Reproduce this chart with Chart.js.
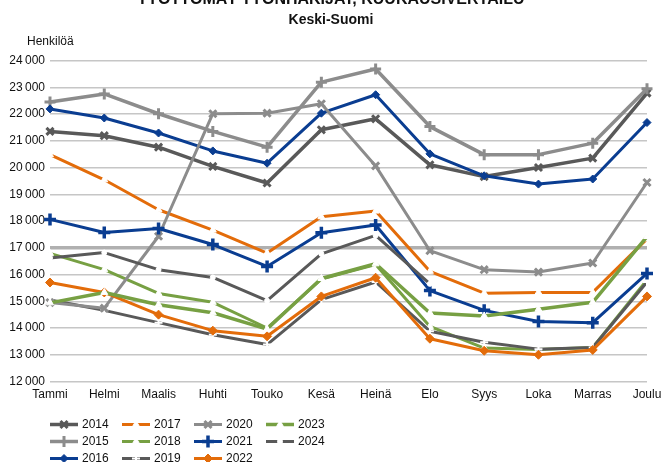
<!DOCTYPE html>
<html>
<head>
<meta charset="utf-8">
<script src="https://cdn.jsdelivr.net/npm/chart.js@4/dist/chart.umd.min.js"></script>
<style>
  html, body { margin: 0; padding: 0; background: #fff; }
  canvas { display: block; }
</style>
</head>
<body>
<canvas id="c" width="662" height="462"></canvas>
<script>
// kuukaudet ja vuodet
const months = ['Tammi', 'Helmi', 'Maalis', 'Huhti', 'Touko', 'Kesä', 'Heinä', 'Elo', 'Syys', 'Loka', 'Marras', 'Joulu'];
const years = ['2014', '2015', '2016', '2017', '2018', '2019', '2020', '2021', '2022', '2023', '2024'];

// työttömät työnhakijat, henkilöä (luettu kuvasta)
const v2014 = [21350, 21190, 20760, 20040, 19420, 21410, 21820, 20100, 19660, 20000, 20350, 22780];
const v2015 = [22450, 22750, 22010, 21350, 20760, 23190, 23680, 21530, 20480, 20480, 20910, 22940];
const v2016 = [22190, 21850, 21290, 20620, 20160, 22030, 22720, 20510, 19690, 19380, 19570, 21680];
const v2017 = [20480, 19540, 18420, 17660, 16800, 18160, 18370, 16120, 15300, 15330, 15330, 17330];
const v2018 = [16790, 16180, 15290, 14960, 14000, 15830, 16370, 14060, 13250, 13200, 13270, 15800];
const v2019 = [15050, 14660, 14200, 13750, 13380, 15060, 15720, 13880, 13470, 13210, 13270, 15720];
const v2020 = [14950, 14740, 17430, 22010, 22030, 22380, 20060, 16890, 16180, 16090, 16430, 19440];
const v2021 = [18060, 17570, 17720, 17120, 16300, 17560, 17850, 15400, 14660, 14240, 14200, 16040];
const v2022 = [15700, 15330, 14500, 13900, 13690, 15180, 15880, 13600, 13150, 13000, 13180, 15180];
const v2023 = [14940, 15330, 14870, 14570, 13960, 15850, 16400, 14560, 14450, 14700, 14960, 17420];
const v2024 = [16620, 16820, 16180, 15890, 15020, 16770, 17460, 15650, null, null, null, null];
const series = [v2014, v2015, v2016, v2017, v2018, v2019, v2020, v2021, v2022, v2023, v2024];

// y-akselin rajat
const yMin = 12000, yMax = 24000, yStep = 1000;

// sarjojen tyylit
const DGRAY = '#595959', LGRAY = '#8c8c8c', BLUE = '#0a3d91', ORANGE = '#e36c0a', GREEN = '#77a043';
const looks = [
  { c: DGRAY,  w: 3.5, ps: 'crossRot', r: 5,   pb: 3,  fill: DGRAY },
  { c: LGRAY,  w: 3.5, ps: 'cross',    r: 5.5, pb: 3,  fill: LGRAY },
  { c: BLUE,   w: 3,   ps: 'rectRot',  r: 4,   pb: 1,  fill: BLUE },
  { c: ORANGE, w: 3,   ps: 'triangle', r: 4,   pb: 1,  fill: '#fff', pbc: '#fff' },
  { c: GREEN,  w: 3,   ps: 'triangle', r: 4,   pb: 1,  fill: '#fff', pbc: '#fff' },
  { c: DGRAY,  w: 3,   ps: 'cross',    r: 4,   pb: 2,  fill: '#fff', pbc: '#fff' },
  { c: LGRAY,  w: 3,   ps: 'crossRot', r: 5,   pb: 3,  fill: LGRAY },
  { c: BLUE,   w: 3,   ps: 'cross',    r: 6,   pb: 3.5, fill: BLUE },
  { c: ORANGE, w: 3,   ps: 'rectRot',  r: 4.5, pb: 1,  fill: ORANGE },
  { c: GREEN,  w: 3.5, ps: 'triangle', r: 4,   pb: 1,  fill: '#fff', pbc: '#fff' },
  { c: DGRAY,  w: 3,   ps: 'circle',   r: 2.5, pb: 1,  fill: '#fff', pbc: '#fff' }
];

const fmtThousands = v => String(v).replace(/\B(?=(\d{3})+(?!\d))/g, '\u2009');

const datasets = series.map((data, i) => {
  const lk = looks[i];
  return {
    label: years[i],
    data,
    borderColor: lk.c,
    borderWidth: lk.w,
    borderJoinStyle: 'round',
    borderCapStyle: 'round',
    pointStyle: lk.ps,
    pointRadius: lk.r,
    pointHoverRadius: lk.r,
    pointBorderWidth: lk.pb,
    pointBorderColor: lk.pbc || lk.c,
    pointBackgroundColor: lk.fill,
    tension: 0,
    fill: false,
    order: series.length - i
  };
});

// otsikot ja yksikkö
const textPlugin = {
  id: 'texts',
  afterDraw(chart) {
    const ctx = chart.ctx;
    ctx.save();
    ctx.fillStyle = '#111';
    ctx.textAlign = 'center';
    ctx.textBaseline = 'alphabetic';
    ctx.font = 'bold 16px "Liberation Sans", Arial, sans-serif';
    ctx.fillText('TYÖTTÖMÄT TYÖNHAKIJAT, KUUKAUSIVERTAILU', 331, 4);
    ctx.textBaseline = 'middle';
    ctx.font = 'bold 14px "Liberation Sans", Arial, sans-serif';
    ctx.fillText('Keski-Suomi', 331, 20.5);
    ctx.textAlign = 'left';
    ctx.font = '12px "Liberation Sans", Arial, sans-serif';
    ctx.fillText('Henkilöä', 27, 42);
    ctx.restore();
  }
};

// selite sarakkeittain (3 riviä x 4 saraketta)
const legendPlugin = {
  id: 'gridLegend',
  afterDraw(chart) {
    const ctx = chart.ctx;
    const left = chart.chartArea.left;
    const top = chart.chartArea.bottom + 43;
    chart.data.datasets.forEach((ds, i) => {
      const col = Math.floor(i / 3), row = i % 3;
      const x = left + col * 72, y = top + row * 17;
      ctx.save();
      ctx.strokeStyle = ds.borderColor;
      ctx.lineWidth = ds.borderWidth;
      ctx.lineCap = 'butt';
      ctx.beginPath();
      ctx.moveTo(x, y);
      ctx.lineTo(x + 28, y);
      ctx.stroke();
      ctx.fillStyle = ds.pointBackgroundColor;
      ctx.strokeStyle = ds.pointBorderColor;
      ctx.lineWidth = ds.pointBorderWidth;
      if (Chart.helpers && Chart.helpers.drawPoint) {
        Chart.helpers.drawPoint(ctx, {
          pointStyle: ds.pointStyle, radius: ds.pointRadius, rotation: 0, borderWidth: ds.pointBorderWidth
        }, x + 14, y);
      }
      ctx.fillStyle = '#111';
      ctx.font = '12px "Liberation Sans", Arial, sans-serif';
      ctx.textBaseline = 'middle';
      ctx.textAlign = 'left';
      ctx.fillText(ds.label, x + 32, y);
      ctx.restore();
    });
  }
};

Chart.defaults.font.family = '"Liberation Sans", Arial, sans-serif';
Chart.defaults.font.size = 12;
Chart.defaults.color = '#111';

new Chart(document.getElementById('c'), {
  type: 'line',
  data: { labels: months, datasets },
  options: {
    responsive: false,
    animation: false,
    devicePixelRatio: 1,
    layout: { padding: { top: 60.5, right: 15, left: 0, bottom: 60.5 } },
    plugins: {
      legend: { display: false },
      tooltip: { enabled: false },
      title: { display: false }
    },
    scales: {
      x: {
        offset: false,
        grid: { display: false, drawTicks: false },
        border: { display: false },
        ticks: { maxRotation: 0, autoSkip: false, padding: 6, color: '#111' },
        afterFit: s => { s.height = 20; s.paddingLeft = 0; s.paddingRight = 0; }
      },
      y: {
        min: yMin,
        max: yMax,
        grid: {
          drawTicks: false,
          color: c => c.tick && c.tick.value === 17000 ? '#b0b0b0' : '#c6c6c6',
          lineWidth: c => c.tick && c.tick.value === 17000 ? 3.5 : 1.5
        },
        border: { display: false },
        ticks: { stepSize: yStep, padding: 5, color: '#111', callback: v => fmtThousands(v) },
        afterFit: s => { s.width = 50; }
      }
    }
  },
  plugins: [textPlugin, legendPlugin]
});
</script>
</body>
</html>
